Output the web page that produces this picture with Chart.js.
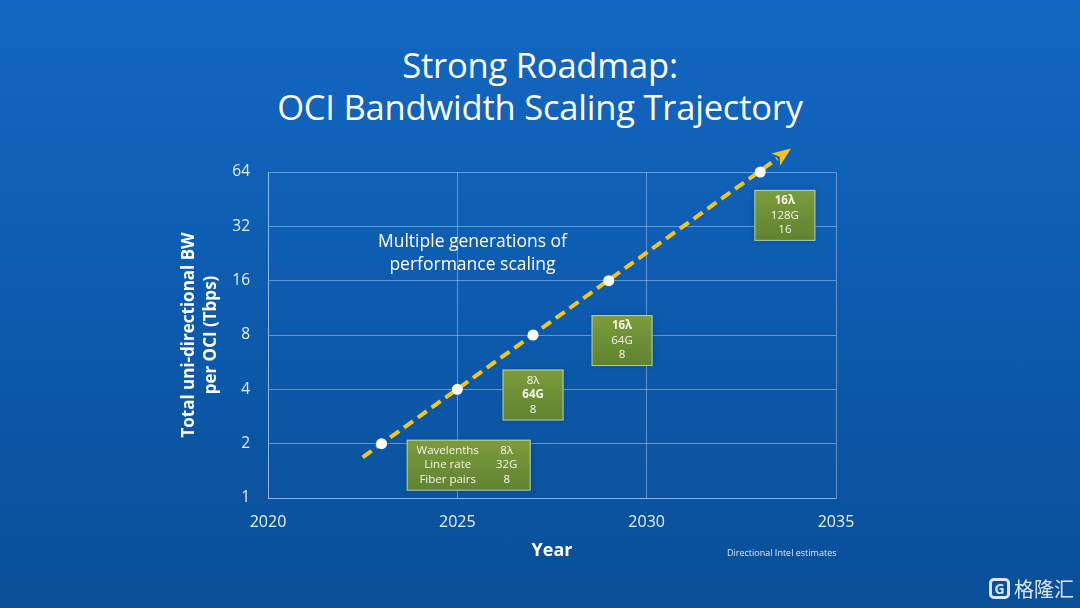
<!DOCTYPE html>
<html>
<head>
<meta charset="utf-8">
<script src="https://cdn.jsdelivr.net/npm/chart.js@4.4.1/dist/chart.umd.min.js"></script>
<style>
  html, body { margin: 0; padding: 0; }
  body {
    width: 1080px; height: 608px; overflow: hidden; position: relative;
    background: linear-gradient(180deg, #1367c2 0%, #0d5cb0 45%, #094f98 100%);
    font-family: 'Open Sans', sans-serif; color: #fff;
  }
  #chart { position: absolute; left: 0; top: 0; }
  .title {
    position: absolute; left: 0; width: 1080px; text-align: center;
    font-size: 34.5px; line-height: 42px; top: 44px; letter-spacing: -0.2px;
  }
  .note { position: absolute; left: 727px; top: 546px; font-size: 9px; color: #dfe8f5; }
  .mark {
    position: absolute; right: 6px; bottom: 5px; display: flex; align-items: center; gap: 4px;
    font-family: 'Noto Sans CJK SC', sans-serif; font-size: 20px; color: rgba(255,255,255,0.85);
  }
  .mark .g {
    width: 21px; height: 21px; border: 3px solid rgba(255,255,255,0.85); border-radius: 5px;
    font: bold 14px 'Open Sans', sans-serif; display: flex; align-items: center; justify-content: center;
    box-sizing: border-box;
  }
</style>
</head>
<body>
<div class="title">Strong Roadmap:<br>OCI Bandwidth Scaling Trajectory</div>
<canvas id="chart" width="1080" height="608"></canvas>
<div class="note">Directional Intel estimates</div>
<div class="mark"><span class="g">G</span><span>格隆汇</span></div>
<script>
const years = [2023, 2025, 2027, 2029, 2033];
const bandwidth = [2, 4, 8, 16, 64];
const trendYears = [2022.5, 2033.45];
const trendValues = [1.68, 76];
const xTicks = [2020, 2025, 2030, 2035];
const yTicks = [1, 2, 4, 8, 16, 32, 64];

const rowLabels = ['Wavelenths', 'Line rate', 'Fiber pairs'];
const genRows = [
  ['8λ', '32G', '8'],
  ['8λ', '64G', '8'],
  ['16λ', '64G', '8'],
  ['16λ', '128G', '16']
];
const genBold = [-1, 1, 0, 0];
const boxYears = [2025.3, 2027.0, 2029.35, 2033.65];
const boxValues = [1.52, 3.72, 7.45, 36.8];

const noteLines = ['Multiple generations of', 'performance scaling'];
const noteYear = 2025.4;
const noteValue = 22.7;

const TEXT = '#e8f0fa';
const GRID = 'rgba(200,225,255,0.45)';
const FONT = "'Open Sans', sans-serif";

const overlayPlugin = {
  id: 'overlay',
  afterDatasetsDraw(chart) {
    const { ctx, scales: { x, y } } = chart;
    const ds = chart.getDatasetMeta(1).data;
    const p1 = ds[ds.length - 2], p2 = ds[ds.length - 1];
    const ang = Math.atan2(p2.y - p1.y, p2.x - p1.x);

    // arrow head
    ctx.save();
    ctx.translate(p2.x, p2.y);
    ctx.rotate(ang);
    ctx.fillStyle = '#f6c51b';
    ctx.beginPath();
    ctx.moveTo(17, 0);
    ctx.lineTo(-2, -7.5);
    ctx.lineTo(3, 0);
    ctx.lineTo(-2, 7.5);
    ctx.closePath();
    ctx.fill();
    ctx.restore();

    // note text
    ctx.save();
    ctx.fillStyle = '#ffffff';
    ctx.font = `17.5px ${FONT}`;
    ctx.textAlign = 'center';
    ctx.textBaseline = 'middle';
    const nx = x.getPixelForValue(noteYear), ny = y.getPixelForValue(noteValue);
    noteLines.forEach((t, i) => ctx.fillText(t, nx, ny + (i - 0.5) * 23));
    ctx.restore();

    // generation boxes
    genRows.forEach((rows, i) => {
      const cx = x.getPixelForValue(boxYears[i]);
      const cy = y.getPixelForValue(boxValues[i]);
      const w = i === 0 ? 124 : 61, h = 51;
      ctx.save();
      ctx.shadowColor = 'rgba(0,20,60,0.35)';
      ctx.shadowBlur = 5;
      const g = ctx.createLinearGradient(0, cy - h / 2, 0, cy + h / 2);
      g.addColorStop(0, '#7c9c3d');
      g.addColorStop(1, '#618230');
      ctx.fillStyle = g;
      ctx.fillRect(cx - w / 2, cy - h / 2, w, h);
      ctx.shadowColor = 'transparent';
      ctx.strokeStyle = 'rgba(200,230,220,0.75)';
      ctx.lineWidth = 1;
      ctx.strokeRect(cx - w / 2 + 0.5, cy - h / 2 + 0.5, w - 1, h - 1);
      ctx.fillStyle = '#f2f6ea';
      ctx.textAlign = 'center';
      ctx.textBaseline = 'middle';
      rows.forEach((t, r) => {
        const ty = cy + (r - 1) * 14.5;
        ctx.font = (genBold[i] === r ? 'bold ' : '') + `11.5px ${FONT}`;
        if (i === 0) {
          ctx.fillText(rowLabels[r], cx - 21, ty);
          ctx.fillText(t, cx + 38, ty);
        } else {
          ctx.fillText(t, cx, ty);
        }
      });
      ctx.restore();
    });
  }
};

new Chart(document.getElementById('chart'), {
  type: 'scatter',
  data: {
    datasets: [
      {
        label: 'Generations',
        data: years.map((yr, i) => ({ x: yr, y: bandwidth[i] })),
        pointRadius: 5.5,
        pointBackgroundColor: '#ffffff',
        pointBorderWidth: 0,
        clip: false,
        order: 0
      },
      {
        label: 'Trend',
        data: trendYears.map((yr, i) => ({ x: yr, y: trendValues[i] })),
        showLine: true,
        borderColor: '#f6c51b',
        borderWidth: 4,
        borderDash: [11, 6],
        pointRadius: 0,
        clip: false,
        order: 1
      }
    ]
  },
  options: {
    responsive: false,
    animation: false,
    devicePixelRatio: 1,
    layout: { padding: { left: 178, right: 244, top: 172, bottom: 46 } },
    plugins: { legend: { display: false }, tooltip: { enabled: false } },
    scales: {
      x: {
        type: 'linear',
        min: 2020,
        max: 2035,
        afterBuildTicks: (s) => { s.ticks = xTicks.map((v) => ({ value: v })); },
        afterFit: (s) => { s.height = 64; },
        ticks: { color: TEXT, font: { size: 16, family: FONT }, padding: 15, callback: (v) => String(v) },
        grid: { color: GRID, lineWidth: 1, drawTicks: false },
        border: { color: GRID },
        title: {
          display: true, text: 'Year', color: '#ffffff',
          font: { size: 18, weight: 'bold', family: FONT }, padding: { top: 0, bottom: 0 }
        }
      },
      y: {
        type: 'logarithmic',
        min: 1,
        max: 64,
        afterBuildTicks: (s) => { s.ticks = yTicks.map((v) => ({ value: v })); },
        afterFit: (s) => { s.width = 90; },
        ticks: { color: TEXT, font: { size: 15.5, family: FONT }, padding: 18, callback: (v) => String(v) },
        grid: { color: GRID, lineWidth: 1, drawTicks: false },
        border: { color: GRID },
        title: {
          display: true, text: ['Total uni-directional BW', 'per OCI (Tbps)'], color: '#ffffff',
          font: { size: 17, weight: 'bold', family: FONT, lineHeight: 1.3 }, padding: { top: 0, bottom: 0 }
        }
      }
    }
  },
  plugins: [overlayPlugin]
});
</script>
</body>
</html>
